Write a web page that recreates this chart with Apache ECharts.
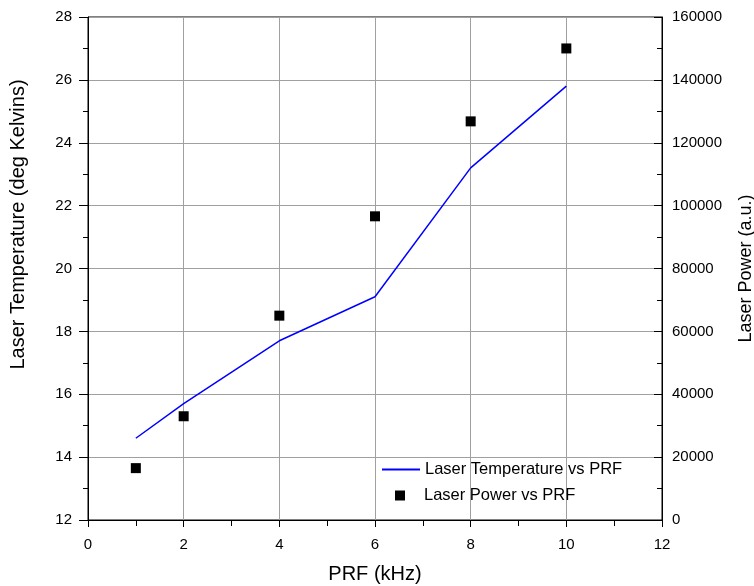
<!DOCTYPE html>
<html><head><meta charset="utf-8">
<script src="https://cdn.jsdelivr.net/npm/echarts@6/dist/echarts.min.js"></script>
<style>html,body{margin:0;padding:0;background:#fff}#c{width:754px;height:586px}</style>
</head><body><div id="c"></div>
<script>
const prf = [1, 2, 4, 6, 8, 10];
const temperature = [14.6, 15.7, 17.7, 19.1, 23.2, 25.8];
const powerPrf = [1, 2, 4, 6, 8, 10];
const power = [16500, 33000, 65000, 96600, 126800, 150000];
const tempName = 'Laser Temperature vs PRF';
const powerName = 'Laser Power vs PRF';

const font = 'Liberation Sans, Arial, sans-serif';
const chart = echarts.init(document.getElementById('c'));
chart.setOption({
  animation: false,
  backgroundColor: '#fff',
  textStyle: {fontFamily: font},
  grid: {left: 88, right: 92, top: 17, bottom: 66, show: true, borderColor: '#000', borderWidth: 1,
         backgroundColor: 'transparent', outerBoundsMode: 'none', containLabel: false},
  legend: [{
    data: [{name: tempName, icon: 'rect'}],
    left: 377, top: 456, orient: 'vertical',
    itemWidth: 38, itemHeight: 2, itemGap: 0,
    textStyle: {fontFamily: font, fontSize: 16.5, color: '#000'}
  }, {
    data: [{name: powerName, icon: 'rect'}],
    left: 390, top: 482, orient: 'vertical',
    itemWidth: 10, itemHeight: 10,
    textStyle: {fontFamily: font, fontSize: 16.5, color: '#000', padding: [0,0,0,14]}
  }],
  xAxis: {
    type: 'value', min: 0, max: 12, interval: 2,
    name: 'PRF (kHz)', nameLocation: 'middle', nameGap: 44,
    nameTextStyle: {fontSize: 20, color: '#000', fontFamily: font},
    axisLine: {show: true, lineStyle: {color: '#000', width: 1}},
    axisTick: {show: true, inside: false, length: 7, lineStyle: {color: '#000'}},
    minorTick: {show: true, splitNumber: 2, length: 6, lineStyle: {color: '#000'}},
    axisLabel: {fontSize: 15, color: '#000', margin: 17, fontFamily: font},
    splitLine: {show: true, lineStyle: {color: '#a0a0a0', width: 1}}
  },
  yAxis: [{
    type: 'value', min: 12, max: 28, interval: 2, position: 'left',
    name: 'Laser Temperature (deg Kelvins)', nameLocation: 'middle', nameGap: 60,
    nameTextStyle: {fontSize: 20, color: '#000', fontFamily: font, padding: [0, 0, 0, 88]},
    axisLine: {show: true, lineStyle: {color: '#000', width: 1}},
    axisTick: {show: true, inside: false, length: 9, lineStyle: {color: '#000'}},
    minorTick: {show: true, splitNumber: 2, length: 5, lineStyle: {color: '#000'}},
    axisLabel: {fontSize: 15, color: '#000', margin: 16, fontFamily: font},
    splitLine: {show: true, lineStyle: {color: '#a0a0a0', width: 1}}
  }, {
    type: 'value', min: 0, max: 160000, interval: 20000, position: 'right',
    name: 'Laser Power (a.u.)', nameLocation: 'middle', nameGap: 75, nameRotate: 90,
    nameTextStyle: {fontSize: 18, color: '#000', fontFamily: font},
    axisLine: {show: true, lineStyle: {color: '#000', width: 1}},
    axisTick: {show: true, inside: true, length: 8, lineStyle: {color: '#000'}},
    minorTick: {show: true, splitNumber: 2, length: 5, lineStyle: {color: '#000'}},
    axisLabel: {fontSize: 15, color: '#000', margin: 10, fontFamily: font, formatter: v => String(v)},
    splitLine: {show: false}
  }],
  series: [{
    name: tempName, type: 'line', yAxisIndex: 0,
    data: prf.map((x, i) => [x, temperature[i]]),
    showSymbol: false, symbol: 'none',
    lineStyle: {color: '#0000ff', width: 1.5}, itemStyle: {color: '#0000ff'}
  }, {
    name: powerName, type: 'scatter', yAxisIndex: 1,
    data: powerPrf.map((x, i) => [x, power[i]]),
    symbol: 'rect', symbolSize: 10,
    itemStyle: {color: '#000', opacity: 1}
  }]
});
</script></body></html>
